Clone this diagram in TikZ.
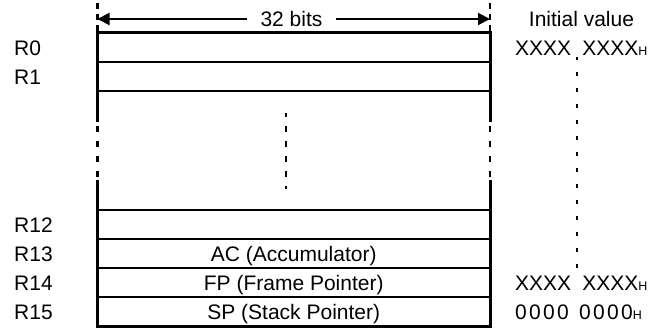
\documentclass[tikz,border=0pt]{standalone}
\usepackage{fontspec}
\setmainfont{Liberation Sans}
\usetikzlibrary{arrows.meta}
\newcommand{\hexsuffix}{{\fontsize{12.5}{12.5}\selectfont H}}
\newcommand{\zk}{\kern2.3pt}
\begin{document}
\begin{tikzpicture}[x=1pt,y=-1pt,
  txt/.style={font=\fontsize{21}{25}\selectfont, inner sep=0pt},
  reglabel/.style={txt, anchor=base west},
  regname/.style={txt, anchor=base},
  initval/.style={txt, anchor=base west},
  border/.style={line width=3pt},
  rowline/.style={line width=2pt},
  gapdash/.style={line width=2.5pt, dash pattern=on 6pt off 9pt, dash phase=11pt},
  extdash/.style={line width=2.5pt, dash pattern=on 6pt off 5pt},
  middots/.style={line width=2pt, dash pattern=on 6pt off 9pt, dash phase=2pt},
  valdash/.style={line width=2pt, dash pattern=on 4.5pt off 11.5pt, dash phase=1.5pt},
  widtharrow/.style={line width=2pt, -{Triangle[length=12pt,width=12pt]}},
]
\useasboundingbox (0,0) rectangle (652,329);

% register frame corners
\coordinate (tl) at (97.5,33);
\coordinate (tr) at (490,33);
\coordinate (bl) at (97.5,326);
\coordinate (br) at (490,326);
\coordinate (lgapA) at (97.5,122);
\coordinate (lgapB) at (97.5,180);
\coordinate (rgapA) at (490,122);
\coordinate (rgapB) at (490,180);

% outer frame, interrupted on both sides
\draw[border] (lgapA) -- (tl) -- (tr) -- (rgapA);
\draw[border] (lgapB) -- (bl) -- (br) -- (rgapB);
\draw[gapdash] (lgapA) -- (lgapB);
\draw[gapdash] (rgapA) -- (rgapB);

% row separators
\foreach \y in {62,91,210,239,268,297}
  \draw[rowline] (97.5,\y) -- (490,\y);

% omitted registers
\coordinate (omitA) at (286,113);
\coordinate (omitB) at (286,189);
\draw[middots] (omitA) -- (omitB);

% width indicator
\coordinate (extL) at (97.5,3);
\coordinate (extR) at (490,3);
\draw[extdash] (extL) -- (tl);
\draw[extdash] (extR) -- (tr);
\node[txt, fill=white, inner xsep=13pt, inner ysep=2pt, anchor=base] (bits) at (291.5,26.7) {32 bits};
\coordinate (arrL) at (97.5,19);
\coordinate (arrR) at (490,19);
\draw[widtharrow] (bits.west |- arrL) -- (arrL);
\draw[widtharrow] (bits.east |- arrR) -- (arrR);

% register names
\node[reglabel] (r0)  at (14,55.5)  {R0};
\node[reglabel] (r1)  at (14,84.5)  {R1};
\node[reglabel] (r12) at (14,232.5) {R12};
\node[reglabel] (r13) at (14,261.5) {R13};
\node[reglabel] (r14) at (14,290.5) {R14};
\node[reglabel] (r15) at (14,319.5) {R15};

% register roles
\node[regname] (ac) at (293.75,261.5) {AC (Accumulator)};
\node[regname] (fp) at (293.75,290.5) {FP (Frame Pointer)};
\node[regname] (sp) at (293.75,319.5) {SP (Stack Pointer)};

% initial values
\node[txt, anchor=base] (ivhead) at (581.5,26.7) {Initial value};
\node[initval] (iv0)  at (515,55.5)  {XXXX\hspace{5.2pt} XXXX\hexsuffix};
\node[initval] (iv14) at (515,290.5) {XXXX\hspace{5.2pt} XXXX\hexsuffix};
\node[initval] (iv15) at (515,319.5) {0\zk0\zk0\zk0\zk{} \zk0\zk0\zk0\zk0\hexsuffix};
\coordinate (valA) at (577,57);
\coordinate (valB) at (577,270);
\draw[valdash] (valA) -- (valB);
\end{tikzpicture}
\end{document}
